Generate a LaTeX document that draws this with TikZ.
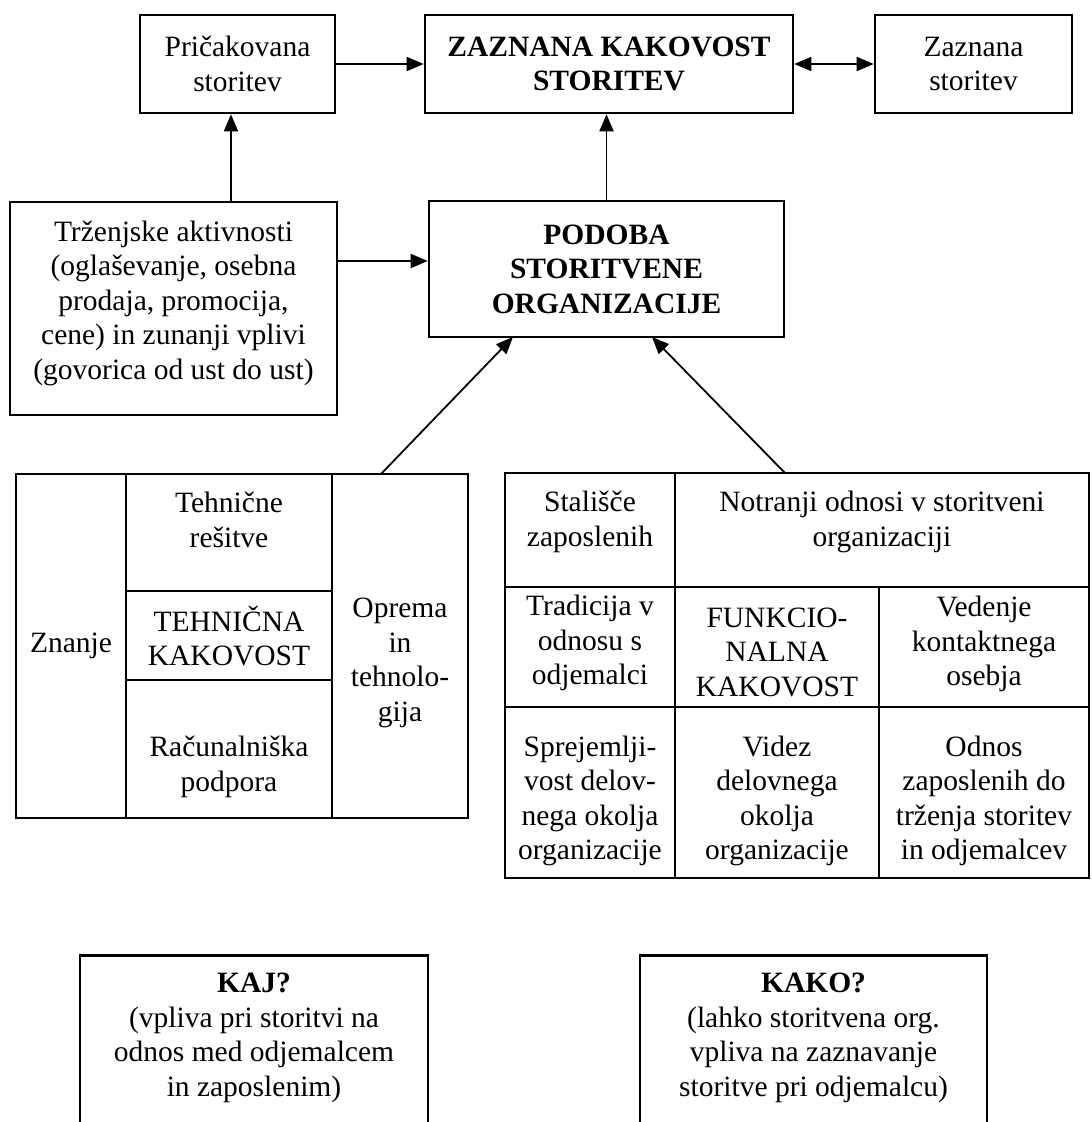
\documentclass[tikz,border=0pt]{standalone}
\usepackage{fontspec}
\setmainfont{Liberation Serif}
\usetikzlibrary{arrows.meta}
\begin{document}
\begin{tikzpicture}[x=1pt,y=-1pt,
  box/.style={draw, line width=2.6pt, inner sep=0pt, align=center,
    font=\fontsize{29.5}{34.5}\selectfont},
  txt/.style={inner sep=0pt, align=center, font=\fontsize{29.5}{34.5}\selectfont},
  arr/.style={line width=1.8pt, -{Triangle[length=17pt,width=14pt]}},
  arrtwo/.style={line width=1.8pt, {Triangle[length=17pt,width=14pt]}-{Triangle[length=17pt,width=14pt]}}]
\useasboundingbox (0,0) rectangle (1092,1122);
\fill[white] (0,0) rectangle (1092,1122);
\clip (0,0) rectangle (1092,1122);

% top row
\node[box, minimum width=195pt, minimum height=98pt] (prica) at (237.5,64) {Pričakovana\\storitev};
\node[box, minimum width=368pt, minimum height=98pt] (zaz) at (609,64) {\textbf{ZAZNANA KAKOVOST}\\\textbf{STORITEV}};
\node[box, minimum width=197pt, minimum height=98pt] (zs) at (973.5,64) {Zaznana\\storitev};

% middle row
\node[box, minimum width=327pt, minimum height=213pt] (trz) at (173.5,308.5) {};
\node[txt] (trzt) at (173.5,303)
  {Trženjske aktivnosti\\(oglaševanje, osebna\\prodaja, promocija,\\cene) in zunanji vplivi\\(govorica od ust do ust)};
\node[box, minimum width=355pt, minimum height=136pt] (pod) at (606.5,269)
  {\textbf{PODOBA}\\\textbf{STORITVENE}\\\textbf{ORGANIZACIJE}};

% left table cells
\node[box, minimum width=110pt, minimum height=344pt] (znanje) at (71,646) {Znanje};
\node[box, minimum width=206pt, minimum height=117pt] (tehres) at (229,532.5) {};
\node[box, minimum width=206pt, minimum height=89pt] (tehkak) at (229,635.5) {};
\node[box, minimum width=206pt, minimum height=138pt] (racun) at (229,749) {};
\node[box, minimum width=136pt, minimum height=344pt] (oprema) at (400,646) {};
% left table texts
\node[txt] (tehrest) at (229,520) {Tehnične\\rešitve};
\node[txt] (tehkakt) at (229,636) {TEHNIČNA\\KAKOVOST};
\node[txt] (racunt) at (229,767) {Računalniška\\podpora};
\node[txt] (opremat) at (400,663) {Oprema\\in\\tehnolo-\\gija};

% right table cells
\node[box, minimum width=170pt, minimum height=114pt] (stal) at (590,530) {};
\node[box, minimum width=414pt, minimum height=114pt] (notr) at (882,530) {};
\node[box, minimum width=170pt, minimum height=120pt] (trad) at (590,647) {};
\node[box, minimum width=204pt, minimum height=120pt] (funk) at (777,647) {};
\node[box, minimum width=210pt, minimum height=120pt] (ved) at (984,647) {};
\node[box, minimum width=170pt, minimum height=171pt] (spre) at (590,792.5) {};
\node[box, minimum width=204pt, minimum height=171pt] (videz) at (777,792.5) {};
\node[box, minimum width=210pt, minimum height=171pt] (odnos) at (984,792.5) {};
% right table texts
\node[txt] (stalt) at (590,522) {Stališče\\zaposlenih};
\node[txt] (notrt) at (882,522) {Notranji odnosi v storitveni\\organizaciji};
\node[txt] (tradt) at (590,643) {Tradicija v\\odnosu s\\odjemalci};
\node[txt] (funkt) at (777,652) {FUNKCIO-\\NALNA\\KAKOVOST};
\node[txt] (vedt) at (984,644) {Vedenje\\kontaktnega\\osebja};
\node[txt] (spret) at (590,801) {Sprejemlji-\\vost delov-\\nega okolja\\organizacije};
\node[txt] (videzt) at (777,801) {Videz\\delovnega\\okolja\\organizacije};
\node[txt] (odnost) at (984,801) {Odnos\\zaposlenih do\\trženja storitev\\in odjemalcev};

% bottom boxes
\node[box, minimum width=348pt, minimum height=220pt, anchor=north] (kaj) at (254,954) {};
\node[txt, anchor=north] (kajt) at (254,973) {\textbf{KAJ?}\\(vpliva pri storitvi na\\odnos med odjemalcem\\in zaposlenim)};
\node[box, minimum width=347pt, minimum height=220pt, anchor=north] (kako) at (813.5,954) {};
\node[txt, anchor=north] (kakot) at (813.5,973) {\textbf{KAKO?}\\(lahko storitvena org.\\vpliva na zaznavanje\\storitve pri odjemalcu)};

% connectors
\coordinate (ty) at (0,261);
\coordinate (ltop) at (381,474);
\coordinate (lend) at (513,337);
\coordinate (rtop) at (785,473);
\coordinate (rend) at (652,337);
\coordinate (px) at (231,0);
\draw[arr] (prica) -- (zaz);
\draw[arrtwo] (zaz) -- (zs);
\draw[arr] (trz.north -| px) -- (prica.south -| px);
\draw[arr] (trz.east |- ty) -- (pod.west |- ty);
\draw[arr] (pod.north) -- (pod.north |- zaz.south);
\draw[arr] (ltop) -- (lend);
\draw[arr] (rtop) -- (rend);
\end{tikzpicture}
\end{document}
